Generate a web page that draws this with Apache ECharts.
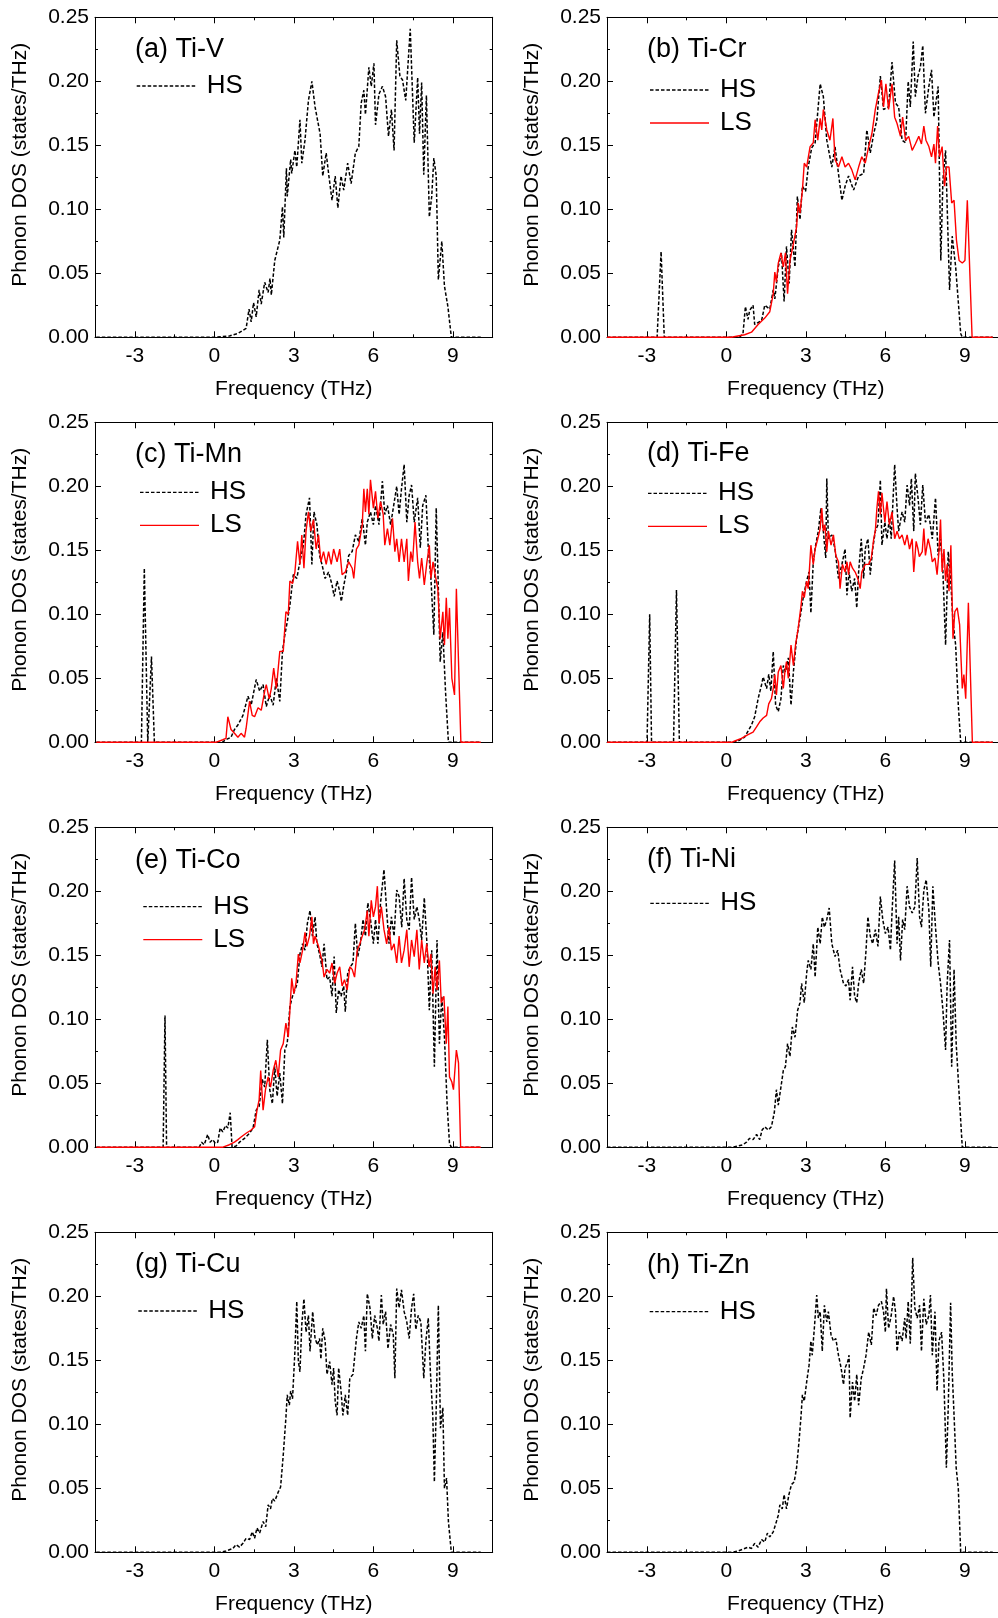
<!DOCTYPE html>
<html>
<head>
<meta charset="utf-8">
<script src="https://cdn.jsdelivr.net/npm/echarts@6/dist/echarts.min.js"></script>
<style>
  html, body { margin: 0; padding: 0; background: #fff; }
  #chart { width: 998px; height: 1618px; }
</style>
</head>
<body>
<div id="chart"></div>
<script>
// Phonon density of states, [frequency (THz), DOS (states/THz)]

const TiV_HS = [[-4.45,0],[0.0,0],[0.3,0.0005],[0.57,0.001],[0.89,0.003],[1.2,0.007],[1.31,0.022],[1.39,0.012],[1.48,0.027],[1.58,0.016],[1.69,0.037],[1.77,0.026],[1.9,0.043],[2.03,0.035],[2.1,0.046],[2.15,0.033],[2.28,0.06],[2.47,0.076],[2.57,0.102],[2.62,0.078],[2.72,0.132],[2.75,0.11],[2.88,0.139],[2.92,0.128],[3.04,0.146],[3.11,0.133],[3.23,0.17],[3.3,0.136],[3.42,0.154],[3.55,0.185],[3.68,0.2],[3.8,0.18],[3.99,0.159],[4.09,0.126],[4.22,0.144],[4.31,0.128],[4.44,0.107],[4.56,0.126],[4.66,0.101],[4.78,0.126],[4.88,0.115],[5.03,0.136],[5.16,0.12],[5.32,0.144],[5.45,0.149],[5.54,0.183],[5.64,0.193],[5.7,0.174],[5.83,0.211],[5.92,0.196],[6.02,0.214],[6.08,0.166],[6.21,0.19],[6.34,0.196],[6.46,0.188],[6.57,0.157],[6.68,0.178],[6.78,0.146],[6.88,0.232],[7.0,0.204],[7.1,0.201],[7.22,0.185],[7.39,0.241],[7.54,0.152],[7.67,0.203],[7.74,0.159],[7.82,0.199],[7.9,0.127],[8.0,0.189],[8.11,0.094],[8.2,0.11],[8.28,0.14],[8.37,0.126],[8.45,0.045],[8.58,0.075],[8.68,0.04],[8.81,0.024],[8.94,0],[10.05,0]];

const TiCr_HS = [[-4.5,0],[-2.61,0],[-2.46,0.067],[-2.34,0],[0.5,0],[0.63,0.003],[0.72,0.024],[0.82,0.014],[0.88,0.021],[1.01,0.025],[1.07,0.01],[1.33,0.013],[1.45,0.025],[1.64,0.022],[1.77,0.037],[1.83,0.03],[1.96,0.055],[2.08,0.066],[2.18,0.028],[2.27,0.071],[2.37,0.042],[2.46,0.084],[2.59,0.055],[2.68,0.11],[2.78,0.092],[2.87,0.118],[2.99,0.114],[3.09,0.133],[3.22,0.148],[3.35,0.152],[3.54,0.198],[3.66,0.188],[3.79,0.154],[3.98,0.133],[4.1,0.149],[4.23,0.128],[4.36,0.107],[4.48,0.118],[4.61,0.126],[4.8,0.115],[4.99,0.126],[5.18,0.128],[5.3,0.162],[5.43,0.144],[5.56,0.159],[5.68,0.17],[5.81,0.204],[5.93,0.178],[6.12,0.18],[6.25,0.215],[6.38,0.183],[6.5,0.18],[6.63,0.154],[6.76,0.152],[6.86,0.2],[6.94,0.18],[7.05,0.231],[7.13,0.188],[7.23,0.204],[7.32,0.211],[7.41,0.228],[7.51,0.175],[7.64,0.196],[7.74,0.209],[7.83,0.172],[7.99,0.196],[8.09,0.06],[8.17,0.123],[8.27,0.146],[8.42,0.037],[8.52,0.079],[8.65,0.055],[8.84,0.003],[8.9,0],[10.05,0]];

const TiCr_LS = [[-4.5,0],[0.19,0],[0.69,0.002],[0.95,0.004],[1.2,0.01],[1.45,0.015],[1.64,0.02],[1.77,0.034],[1.83,0.051],[1.89,0.043],[1.96,0.058],[2.06,0.066],[2.15,0.055],[2.23,0.066],[2.31,0.034],[2.4,0.06],[2.53,0.073],[2.65,0.086],[2.71,0.105],[2.78,0.097],[2.87,0.115],[2.94,0.136],[3.03,0.133],[3.16,0.149],[3.28,0.152],[3.35,0.17],[3.45,0.154],[3.54,0.171],[3.6,0.162],[3.66,0.178],[3.79,0.162],[3.91,0.154],[4.02,0.171],[4.1,0.139],[4.23,0.133],[4.36,0.141],[4.48,0.133],[4.61,0.136],[4.73,0.131],[4.86,0.123],[4.99,0.133],[5.11,0.141],[5.24,0.136],[5.37,0.149],[5.49,0.159],[5.62,0.178],[5.74,0.191],[5.85,0.201],[5.93,0.18],[6.02,0.198],[6.12,0.178],[6.25,0.198],[6.35,0.172],[6.44,0.167],[6.57,0.157],[6.65,0.172],[6.76,0.154],[6.88,0.157],[7.01,0.146],[7.13,0.151],[7.26,0.157],[7.36,0.151],[7.45,0.165],[7.53,0.154],[7.64,0.149],[7.74,0.141],[7.83,0.151],[7.89,0.136],[7.97,0.165],[8.04,0.141],[8.14,0.149],[8.23,0.118],[8.31,0.133],[8.4,0.133],[8.5,0.105],[8.59,0.107],[8.68,0.076],[8.78,0.06],[8.9,0.058],[9.0,0.06],[9.09,0.107],[9.27,0],[10.05,0]];

const TiMn_HS = [[-4.45,0],[-2.75,0],[-2.64,0.136],[-2.51,0],[-2.37,0.067],[-2.26,0],[0.3,0],[0.44,0.002],[0.63,0.004],[0.76,0.01],[0.89,0.0135],[1.08,0.021],[1.27,0.036],[1.39,0.029],[1.58,0.049],[1.71,0.04],[1.84,0.045],[1.96,0.028],[2.09,0.037],[2.22,0.029],[2.34,0.05],[2.47,0.032],[2.57,0.071],[2.66,0.084],[2.75,0.094],[2.85,0.107],[2.98,0.131],[3.11,0.128],[3.23,0.141],[3.36,0.154],[3.46,0.178],[3.59,0.191],[3.68,0.139],[3.76,0.18],[3.87,0.17],[3.97,0.146],[4.06,0.139],[4.18,0.128],[4.31,0.133],[4.44,0.123],[4.52,0.114],[4.63,0.126],[4.73,0.118],[4.79,0.11],[4.88,0.122],[4.98,0.133],[5.07,0.146],[5.2,0.149],[5.32,0.162],[5.45,0.157],[5.58,0.175],[5.7,0.154],[5.77,0.172],[5.89,0.18],[6.0,0.17],[6.08,0.185],[6.21,0.17],[6.34,0.204],[6.43,0.178],[6.53,0.185],[6.65,0.17],[6.75,0.183],[6.88,0.2],[6.97,0.178],[7.06,0.198],[7.16,0.217],[7.26,0.172],[7.35,0.193],[7.44,0.201],[7.54,0.172],[7.67,0.191],[7.77,0.152],[7.86,0.185],[7.98,0.193],[8.07,0.152],[8.17,0.128],[8.28,0.084],[8.37,0.183],[8.45,0.12],[8.52,0.063],[8.62,0.086],[8.72,0.04],[8.83,0],[10.05,0]];

const TiMn_LS = [[-4.45,0],[0.06,0],[0.32,0.002],[0.44,0.003],[0.51,0.02],[0.63,0.01],[0.76,0.007],[0.89,0.004],[1.01,0.007],[1.14,0.004],[1.2,0.011],[1.33,0.032],[1.43,0.021],[1.52,0.02],[1.65,0.027],[1.77,0.025],[1.9,0.04],[1.96,0.045],[2.07,0.034],[2.15,0.042],[2.24,0.058],[2.34,0.042],[2.47,0.071],[2.6,0.071],[2.7,0.102],[2.79,0.1],[2.85,0.126],[2.95,0.124],[3.04,0.133],[3.14,0.157],[3.23,0.139],[3.3,0.162],[3.38,0.136],[3.46,0.165],[3.55,0.18],[3.64,0.165],[3.74,0.174],[3.84,0.151],[3.93,0.162],[4.02,0.141],[4.12,0.149],[4.22,0.139],[4.31,0.149],[4.41,0.139],[4.5,0.151],[4.63,0.141],[4.73,0.151],[4.82,0.131],[4.94,0.133],[5.07,0.141],[5.2,0.136],[5.26,0.128],[5.36,0.151],[5.45,0.154],[5.58,0.17],[5.64,0.198],[5.7,0.18],[5.77,0.198],[5.83,0.178],[5.89,0.205],[6.0,0.183],[6.08,0.196],[6.17,0.175],[6.27,0.188],[6.37,0.178],[6.43,0.154],[6.53,0.167],[6.62,0.154],[6.72,0.175],[6.81,0.149],[6.88,0.159],[6.97,0.141],[7.06,0.159],[7.16,0.141],[7.26,0.159],[7.32,0.126],[7.41,0.149],[7.48,0.141],[7.57,0.172],[7.67,0.141],[7.74,0.128],[7.82,0.144],[7.92,0.123],[8.02,0.141],[8.11,0.154],[8.17,0.128],[8.25,0.141],[8.33,0.131],[8.43,0.12],[8.52,0.081],[8.62,0.102],[8.68,0.076],[8.75,0.113],[8.81,0.081],[8.87,0.105],[8.96,0.05],[9.06,0.037],[9.13,0.12],[9.3,0],[10.05,0]];

const TiFe_HS = [[-4.5,0],[-2.99,0],[-2.89,0.1],[-2.82,0],[-1.99,0],[-1.88,0.119],[-1.77,0],[0.3,0],[0.44,0.001],[0.69,0.004],[0.95,0.0135],[1.07,0.02],[1.2,0.034],[1.33,0.045],[1.39,0.051],[1.52,0.042],[1.6,0.053],[1.68,0.04],[1.77,0.071],[1.86,0.029],[1.96,0.024],[2.06,0.034],[2.15,0.06],[2.23,0.055],[2.34,0.066],[2.44,0.029],[2.53,0.055],[2.65,0.081],[2.78,0.097],[2.9,0.113],[3.03,0.126],[3.12,0.133],[3.19,0.101],[3.28,0.141],[3.37,0.154],[3.47,0.165],[3.57,0.183],[3.66,0.165],[3.75,0.144],[3.79,0.206],[3.85,0.159],[3.98,0.162],[4.1,0.151],[4.23,0.128],[4.36,0.139],[4.48,0.151],[4.55,0.115],[4.63,0.133],[4.73,0.118],[4.84,0.128],[4.92,0.105],[4.99,0.133],[5.09,0.159],[5.18,0.128],[5.24,0.151],[5.34,0.159],[5.43,0.131],[5.52,0.151],[5.62,0.165],[5.72,0.17],[5.81,0.205],[5.87,0.154],[5.98,0.172],[6.06,0.159],[6.15,0.175],[6.22,0.159],[6.35,0.217],[6.44,0.183],[6.5,0.165],[6.63,0.18],[6.73,0.172],[6.82,0.201],[6.91,0.185],[6.98,0.206],[7.07,0.165],[7.13,0.21],[7.23,0.191],[7.32,0.17],[7.41,0.201],[7.51,0.172],[7.64,0.178],[7.77,0.159],[7.89,0.191],[7.99,0.146],[8.08,0.159],[8.17,0.133],[8.27,0.076],[8.37,0.149],[8.46,0.128],[8.55,0.094],[8.65,0.076],[8.75,0.029],[8.84,0],[10.05,0]];

const TiFe_LS = [[-4.5,0],[0.2,0],[0.32,0.001],[0.57,0.003],[0.82,0.006],[1.01,0.008],[1.14,0.012],[1.26,0.016],[1.39,0.019],[1.52,0.021],[1.6,0.03],[1.7,0.034],[1.77,0.042],[1.83,0.053],[1.89,0.037],[1.96,0.055],[2.06,0.06],[2.15,0.042],[2.21,0.055],[2.27,0.063],[2.34,0.05],[2.44,0.076],[2.53,0.06],[2.61,0.076],[2.71,0.089],[2.82,0.107],[2.87,0.118],[2.94,0.113],[3.03,0.126],[3.09,0.12],[3.19,0.154],[3.28,0.139],[3.35,0.151],[3.45,0.159],[3.54,0.167],[3.6,0.183],[3.66,0.165],[3.72,0.17],[3.79,0.149],[3.85,0.165],[3.95,0.154],[4.04,0.162],[4.13,0.146],[4.23,0.141],[4.29,0.12],[4.38,0.139],[4.48,0.133],[4.55,0.141],[4.61,0.131],[4.67,0.141],[4.76,0.136],[4.86,0.133],[4.96,0.128],[5.05,0.12],[5.11,0.133],[5.24,0.139],[5.37,0.139],[5.47,0.144],[5.56,0.159],[5.62,0.165],[5.68,0.183],[5.74,0.196],[5.81,0.178],[5.87,0.195],[5.98,0.172],[6.06,0.188],[6.15,0.17],[6.25,0.18],[6.35,0.159],[6.44,0.165],[6.53,0.159],[6.63,0.162],[6.73,0.154],[6.82,0.162],[6.91,0.151],[7.01,0.159],[7.07,0.133],[7.16,0.157],[7.23,0.151],[7.28,0.145],[7.39,0.149],[7.45,0.167],[7.51,0.146],[7.61,0.159],[7.7,0.151],[7.77,0.141],[7.87,0.144],[7.95,0.131],[8.02,0.149],[8.08,0.174],[8.14,0.133],[8.21,0.151],[8.27,0.126],[8.33,0.139],[8.4,0.118],[8.47,0.154],[8.55,0.081],[8.62,0.102],[8.71,0.105],[8.8,0.092],[8.9,0.042],[8.96,0.053],[9.03,0.034],[9.13,0.109],[9.28,0],[10.05,0]];

const TiCo_HS = [[-4.45,0],[-1.93,0],[-1.86,0.103],[-1.8,0],[-0.57,0],[-0.48,0.004],[-0.38,0.002],[-0.25,0.01],[-0.16,0.004],[-0.06,0.006],[0.04,0.003],[0.13,0.004],[0.22,0.015],[0.32,0.012],[0.42,0.017],[0.51,0.015],[0.6,0.027],[0.67,0],[0.82,0.001],[0.95,0.004],[1.14,0.007],[1.33,0.011],[1.46,0.015],[1.58,0.029],[1.69,0.032],[1.81,0.053],[1.9,0.047],[2.0,0.084],[2.09,0.045],[2.19,0.034],[2.28,0.063],[2.37,0.04],[2.47,0.058],[2.57,0.034],[2.66,0.076],[2.75,0.081],[2.85,0.11],[2.95,0.118],[3.04,0.123],[3.13,0.128],[3.23,0.151],[3.33,0.159],[3.42,0.154],[3.51,0.175],[3.61,0.185],[3.7,0.165],[3.8,0.18],[3.87,0.159],[3.97,0.151],[4.06,0.141],[4.14,0.159],[4.25,0.131],[4.35,0.133],[4.44,0.118],[4.52,0.149],[4.6,0.105],[4.69,0.123],[4.78,0.118],[4.88,0.126],[4.94,0.106],[5.03,0.136],[5.13,0.141],[5.23,0.144],[5.32,0.175],[5.41,0.149],[5.51,0.159],[5.61,0.178],[5.7,0.165],[5.79,0.191],[5.89,0.178],[6.0,0.159],[6.08,0.178],[6.17,0.159],[6.27,0.191],[6.4,0.217],[6.5,0.185],[6.59,0.159],[6.68,0.18],[6.78,0.165],[6.88,0.201],[6.97,0.196],[7.07,0.172],[7.16,0.21],[7.26,0.178],[7.35,0.17],[7.44,0.211],[7.54,0.178],[7.64,0.188],[7.73,0.178],[7.82,0.162],[7.92,0.195],[8.02,0.159],[8.11,0.107],[8.2,0.154],[8.3,0.063],[8.4,0.162],[8.49,0.081],[8.58,0.118],[8.68,0.086],[8.78,0.034],[8.87,0.003],[8.94,0],[10.05,0]];

const TiCo_LS = [[-4.45,0],[0.3,0],[0.57,0.002],[0.76,0.004],[0.89,0.006],[1.01,0.008],[1.2,0.011],[1.39,0.0135],[1.52,0.016],[1.61,0.029],[1.69,0.037],[1.75,0.06],[1.84,0.029],[1.93,0.045],[2.03,0.055],[2.12,0.047],[2.22,0.06],[2.32,0.068],[2.41,0.055],[2.5,0.076],[2.6,0.081],[2.7,0.097],[2.79,0.086],[2.85,0.107],[2.92,0.132],[3.0,0.12],[3.08,0.128],[3.17,0.151],[3.23,0.144],[3.33,0.154],[3.42,0.168],[3.49,0.157],[3.59,0.165],[3.68,0.18],[3.74,0.159],[3.8,0.165],[3.93,0.157],[4.06,0.146],[4.14,0.133],[4.25,0.139],[4.35,0.136],[4.44,0.144],[4.54,0.128],[4.63,0.136],[4.73,0.141],[4.82,0.126],[4.91,0.131],[5.01,0.123],[5.11,0.141],[5.2,0.139],[5.29,0.133],[5.39,0.154],[5.49,0.159],[5.58,0.165],[5.67,0.17],[5.77,0.185],[5.83,0.165],[5.92,0.193],[6.0,0.18],[6.08,0.188],[6.15,0.204],[6.21,0.175],[6.3,0.188],[6.4,0.17],[6.5,0.159],[6.59,0.172],[6.68,0.154],[6.78,0.159],[6.88,0.144],[6.97,0.165],[7.06,0.144],[7.16,0.154],[7.26,0.17],[7.35,0.141],[7.44,0.162],[7.54,0.149],[7.64,0.17],[7.73,0.139],[7.82,0.162],[7.92,0.144],[8.01,0.159],[8.1,0.141],[8.17,0.151],[8.25,0.12],[8.33,0.141],[8.4,0.123],[8.49,0.146],[8.56,0.113],[8.66,0.118],[8.75,0.081],[8.81,0.11],[8.87,0.055],[8.96,0.051],[9.02,0.045],[9.13,0.076],[9.21,0.066],[9.29,0],[10.05,0]];

const TiNi_HS = [[-4.5,0],[0.19,0],[0.44,0.001],[0.63,0.002],[0.76,0.004],[0.88,0.007],[1.01,0.006],[1.14,0.01],[1.26,0.006],[1.35,0.0135],[1.45,0.016],[1.58,0.0135],[1.7,0.016],[1.81,0.027],[1.89,0.045],[1.96,0.033],[2.06,0.047],[2.15,0.06],[2.23,0.063],[2.31,0.081],[2.4,0.071],[2.49,0.094],[2.59,0.086],[2.69,0.107],[2.78,0.113],[2.84,0.128],[2.94,0.113],[3.03,0.136],[3.09,0.146],[3.19,0.139],[3.28,0.159],[3.35,0.133],[3.45,0.172],[3.54,0.159],[3.62,0.18],[3.7,0.172],[3.79,0.178],[3.88,0.187],[3.98,0.159],[4.1,0.149],[4.2,0.154],[4.29,0.139],[4.42,0.128],[4.51,0.126],[4.61,0.131],[4.67,0.115],[4.76,0.141],[4.84,0.118],[4.92,0.113],[4.99,0.128],[5.09,0.139],[5.18,0.128],[5.27,0.154],[5.34,0.18],[5.43,0.165],[5.52,0.159],[5.62,0.17],[5.72,0.157],[5.81,0.196],[5.9,0.178],[6.0,0.167],[6.1,0.172],[6.19,0.154],[6.25,0.183],[6.35,0.224],[6.44,0.159],[6.5,0.18],[6.57,0.146],[6.65,0.178],[6.73,0.17],[6.82,0.204],[6.91,0.188],[7.01,0.183],[7.11,0.188],[7.2,0.226],[7.29,0.18],[7.36,0.172],[7.45,0.201],[7.54,0.209],[7.64,0.185],[7.71,0.141],[7.79,0.204],[7.89,0.172],[7.99,0.144],[8.08,0.128],[8.17,0.107],[8.27,0.076],[8.33,0.128],[8.42,0.162],[8.5,0.063],[8.59,0.139],[8.67,0.081],[8.78,0.042],[8.9,0],[10.05,0]];

const TiCu_HS = [[-4.45,0],[0.2,0],[0.44,0.001],[0.7,0.003],[0.82,0.006],[0.95,0.004],[1.08,0.007],[1.2,0.011],[1.33,0.01],[1.43,0.016],[1.52,0.011],[1.61,0.019],[1.71,0.015],[1.84,0.024],[1.94,0.02],[2.03,0.037],[2.12,0.034],[2.19,0.042],[2.28,0.04],[2.41,0.047],[2.5,0.051],[2.6,0.076],[2.7,0.105],[2.75,0.123],[2.83,0.115],[2.88,0.126],[2.95,0.12],[3.04,0.157],[3.11,0.196],[3.17,0.149],[3.23,0.141],[3.3,0.178],[3.38,0.198],[3.46,0.172],[3.55,0.185],[3.61,0.157],[3.71,0.188],[3.8,0.167],[3.89,0.162],[3.97,0.167],[4.02,0.151],[4.09,0.175],[4.18,0.165],[4.25,0.139],[4.35,0.149],[4.44,0.131],[4.5,0.144],[4.56,0.118],[4.63,0.107],[4.69,0.144],[4.78,0.126],[4.85,0.107],[4.94,0.123],[5.03,0.107],[5.11,0.136],[5.23,0.139],[5.36,0.167],[5.45,0.18],[5.54,0.175],[5.64,0.185],[5.7,0.157],[5.77,0.202],[5.87,0.191],[5.96,0.167],[6.05,0.185],[6.15,0.175],[6.21,0.165],[6.3,0.201],[6.37,0.178],[6.46,0.188],[6.55,0.159],[6.65,0.178],[6.75,0.17],[6.81,0.136],[6.88,0.206],[6.97,0.191],[7.06,0.205],[7.16,0.188],[7.26,0.18],[7.35,0.167],[7.44,0.191],[7.52,0.202],[7.6,0.174],[7.69,0.185],[7.79,0.18],[7.9,0.136],[7.98,0.165],[8.07,0.183],[8.15,0.141],[8.24,0.107],[8.3,0.055],[8.37,0.113],[8.45,0.193],[8.53,0.097],[8.62,0.113],[8.68,0.05],[8.76,0.058],[8.83,0.024],[8.94,0],[10.05,0]];

const TiZn_HS = [[-4.5,0],[0.19,0],[0.44,0.001],[0.69,0.003],[0.82,0.004],[0.95,0.003],[1.07,0.007],[1.2,0.004],[1.33,0.01],[1.45,0.008],[1.55,0.015],[1.64,0.012],[1.77,0.016],[1.89,0.024],[1.96,0.029],[2.02,0.037],[2.11,0.034],[2.18,0.045],[2.27,0.034],[2.36,0.045],[2.46,0.053],[2.56,0.055],[2.65,0.066],[2.74,0.086],[2.82,0.107],[2.87,0.123],[2.94,0.118],[3.03,0.133],[3.12,0.146],[3.19,0.165],[3.24,0.154],[3.32,0.175],[3.41,0.201],[3.47,0.183],[3.54,0.188],[3.62,0.157],[3.7,0.193],[3.79,0.18],[3.85,0.188],[3.95,0.17],[4.04,0.165],[4.13,0.167],[4.23,0.154],[4.33,0.144],[4.42,0.131],[4.48,0.144],[4.58,0.149],[4.63,0.154],[4.67,0.105],[4.76,0.133],[4.84,0.118],[4.92,0.139],[4.99,0.115],[5.09,0.136],[5.18,0.144],[5.27,0.154],[5.37,0.172],[5.47,0.162],[5.56,0.191],[5.65,0.185],[5.74,0.193],[5.85,0.196],[5.93,0.188],[6.0,0.172],[6.04,0.206],[6.12,0.175],[6.22,0.185],[6.31,0.2],[6.38,0.188],[6.44,0.157],[6.53,0.172],[6.63,0.165],[6.73,0.183],[6.78,0.167],[6.86,0.196],[6.94,0.163],[7.03,0.23],[7.11,0.191],[7.2,0.183],[7.29,0.193],[7.36,0.157],[7.45,0.198],[7.54,0.178],[7.64,0.185],[7.7,0.201],[7.77,0.154],[7.87,0.188],[7.95,0.126],[8.02,0.165],[8.12,0.172],[8.21,0.133],[8.3,0.066],[8.37,0.113],[8.46,0.195],[8.52,0.141],[8.59,0.107],[8.67,0.066],[8.75,0.05],[8.84,0],[10.05,0]];

// Panel labels and the curves each one holds
const panelLabels = ['(a) Ti-V', '(b) Ti-Cr', '(c) Ti-Mn', '(d) Ti-Fe', '(e) Ti-Co', '(f) Ti-Ni', '(g) Ti-Cu', '(h) Ti-Zn'];
const hsCurves = [TiV_HS, TiCr_HS, TiMn_HS, TiFe_HS, TiCo_HS, TiNi_HS, TiCu_HS, TiZn_HS];
const lsCurves = [null, TiCr_LS, TiMn_LS, TiFe_LS, TiCo_LS, null, null, null];

// Axis settings
const X_MIN = -4.5, X_MAX = 10.5, X_STEP = 1.5;
const X_MAJOR = [-3, 0, 3, 6, 9];
const Y_MIN = 0, Y_MAX = 0.25, Y_STEP = 0.05;
const X_NAME = 'Frequency (THz)';
const Y_NAME = 'Phonon DOS (states/THz)';

// ---- layout (pixels) ----
const FONT = '"Liberation Sans", Arial, Helvetica, sans-serif';
const COL_LEFT = [95, 607];
const ROW_TOP = [17.3, 422.3, 827.3, 1232.3];
const PLOT_W = 397.7, PLOT_H = 320;
// legend line start (x) and first-row centre (y), relative to each plot's top-left
const LEGEND_POS = [[41.7, 68.7], [43, 72.7], [45, 70], [41, 71], [48.3, 79.3], [43.3, 76], [43.3, 78.7], [42.7, 79.3]];
const TITLE_Y = [32, 32.7, 32.7, 31, 33.7, 32.7, 32.7, 33.7];
const LEGEND_ROW = 33, LEGEND_LINE = 59;

const HS_STYLE = { color: '#000', width: 1.5, type: [3.5, 2] };
const LS_STYLE = { color: '#ff0000', width: 1.4, type: 'solid' };

const axisLineStyle = { color: '#000', width: 1 };
const labelStyle = { fontSize: 21, color: '#000', fontFamily: FONT };

const grids = [], xAxes = [], yAxes = [], series = [], graphics = [];
const N = panelLabels.length;

function gridBox(i) {
  return {
    left: COL_LEFT[i % 2], top: ROW_TOP[Math.floor(i / 2)],
    width: PLOT_W, height: PLOT_H,
    containLabel: false, outerBoundsMode: 'none'
  };
}

for (let i = 0; i < N; i++) {
  const box = gridBox(i);
  const left = box.left, top = box.top;
  grids.push(box);

  // bottom axis: short ticks every 1.5 THz, labels on multiples of 3
  xAxes.push({
    gridIndex: i, type: 'value', position: 'bottom',
    min: X_MIN, max: X_MAX, interval: X_STEP,
    axisLine: { show: true, onZero: false, lineStyle: axisLineStyle },
    axisTick: { show: true, inside: true, length: 3, lineStyle: axisLineStyle },
    axisLabel: {
      show: true, margin: 8, ...labelStyle,
      formatter: v => (Math.abs(v % 3) < 1e-6 ? String(v) : '')
    },
    splitLine: { show: false },
    name: X_NAME, nameLocation: 'middle', nameGap: 41,
    nameTextStyle: { ...labelStyle }
  });
  // mirrored top axis
  xAxes.push({
    gridIndex: i, type: 'value', position: 'top',
    min: X_MIN, max: X_MAX, interval: X_STEP,
    axisLine: { show: true, onZero: false, lineStyle: axisLineStyle },
    axisTick: { show: true, inside: true, length: 3, lineStyle: axisLineStyle },
    axisLabel: { show: false },
    splitLine: { show: false }
  });

  const yCommon = {
    gridIndex: i, type: 'value', min: Y_MIN, max: Y_MAX, interval: Y_STEP,
    axisLine: { show: true, onZero: false, lineStyle: axisLineStyle },
    axisTick: { show: true, inside: true, length: 6, lineStyle: axisLineStyle },
    minorTick: { show: true, splitNumber: 2, length: 3, lineStyle: axisLineStyle },
    splitLine: { show: false }, minorSplitLine: { show: false }
  };
  yAxes.push({
    ...yCommon, position: 'left',
    axisLabel: { show: true, margin: 6, ...labelStyle, formatter: v => v.toFixed(2) },
    name: Y_NAME, nameLocation: 'middle', nameGap: 64,
    nameTextStyle: { ...labelStyle, padding: [0, 0, 0, 25] }
  });
  yAxes.push({ ...yCommon, position: 'right', axisLabel: { show: false } });

  series.push({
    type: 'line', name: 'HS', xAxisIndex: 2 * i, yAxisIndex: 2 * i,
    data: hsCurves[i], symbol: 'none', lineStyle: HS_STYLE, z: 2, silent: true
  });
  if (lsCurves[i]) {
    series.push({
      type: 'line', name: 'LS', xAxisIndex: 2 * i, yAxisIndex: 2 * i,
      data: lsCurves[i], symbol: 'none', lineStyle: LS_STYLE, z: 3, silent: true
    });
  }

  // panel label
  graphics.push({
    type: 'text', silent: true, z: 10,
    x: left + 40, y: top + TITLE_Y[i],
    style: { text: panelLabels[i], fontSize: 27, fontFamily: FONT, fill: '#000', verticalAlign: 'middle' }
  });

  // legend rows
  const entries = [{ name: 'HS', style: HS_STYLE }];
  if (lsCurves[i]) entries.push({ name: 'LS', style: LS_STYLE });
  entries.forEach((e, j) => {
    const lx = left + LEGEND_POS[i][0];
    const ly = top + LEGEND_POS[i][1] + j * LEGEND_ROW;
    graphics.push({
      type: 'line', silent: true, z: 10,
      shape: { x1: lx, y1: ly, x2: lx + LEGEND_LINE, y2: ly },
      style: { stroke: e.style.color, lineWidth: 1.3, lineDash: Array.isArray(e.style.type) ? e.style.type : null }
    });
    graphics.push({
      type: 'text', silent: true, z: 10,
      x: lx + 70, y: ly,
      style: { text: e.name, fontSize: 26, fontFamily: FONT, fill: '#000', verticalAlign: 'middle' }
    });
  });
}

// Overlay grids carrying the longer major x ticks (top and bottom)
for (let i = 0; i < N; i++) {
  grids.push(gridBox(i));
  ['bottom', 'top'].forEach(pos => {
    xAxes.push({
      gridIndex: N + i, type: 'value', position: pos, min: X_MIN, max: X_MAX,
      axisLine: { show: false },
      axisTick: { show: true, inside: true, length: 6, customValues: X_MAJOR, lineStyle: axisLineStyle },
      axisLabel: { show: false }, splitLine: { show: false }
    });
  });
  yAxes.push({ gridIndex: N + i, type: 'value', min: Y_MIN, max: Y_MAX, show: false });
}

const chart = echarts.init(document.getElementById('chart'), null, { renderer: 'canvas' });
chart.setOption({
  animation: false,
  backgroundColor: '#fff',
  textStyle: { fontFamily: FONT },
  grid: grids,
  xAxis: xAxes,
  yAxis: yAxes,
  series: series,
  graphic: { elements: graphics }
});
</script>
</body>
</html>
